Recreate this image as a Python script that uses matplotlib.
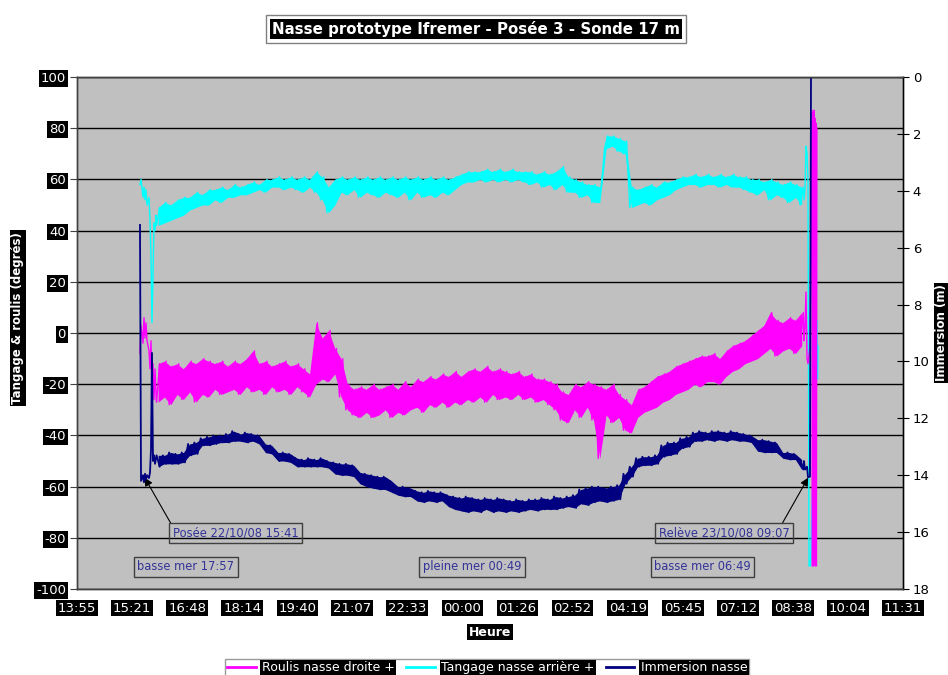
import numpy as np
import matplotlib.pyplot as plt

# Time is in decimal hours from 00:00 on 22/10/08 (values above 24 are on 23/10/08)
x_start = 13.92
x_step = 1.44
x_labels = ["13:55", "15:21", "16:48", "18:14", "19:40", "21:07", "22:33", "00:00",
            "01:26", "02:52", "04:19", "05:45", "07:12", "08:38", "10:04", "11:31"]
deg_ticks = [-100, -80, -60, -40, -20, 0, 20, 40, 60, 80, 100]
depth_ticks = [0, 2, 4, 6, 8, 10, 12, 14, 16, 18]

# deployment: first records, taken every ~1.5 min
head_t = [15.567, 15.594, 15.646, 15.672, 15.698, 15.724, 15.751, 15.803,
          15.829, 15.855, 15.881, 15.907, 15.934, 15.960, 15.986]
roulis_head = [-8, 3, -4, 6, -2, 4, -3, -7, -14, -3, -22, -12, -26, -14, -24]
tangage_head = [58, 60, 53, 57, 52, 56, 50, 53, 44, 30, 4, 22, 43, 40, 46]
immersion_head = [5.2, 14.2, 14.0, 14.25, 13.95, 14.15, 14.0, 14.1,
                  13.9, 13.1, 9.7, 13.5, 13.3, 13.6, 13.4]

# on the bottom: min / max of each 9.9 min block, from 16:00
body_start = 16.0
body_step = 0.165

roulis_lo = [-27, -25, -28, -24, -26, -23, -27, -24, -25, -22,
             -24, -23, -22, -24, -21, -23, -22, -24, -21, -23,
             -22, -24, -21, -23, -25, -20, -18, -19, -16, -25,
             -30, -32, -33, -31, -33, -32, -30, -33, -31, -32,
             -30, -29, -31, -28, -29, -27, -29, -27, -28, -26,
             -27, -25, -27, -24, -26, -25, -26, -24, -26, -25,
             -27, -26, -28, -30, -34, -35, -30, -33, -29, -34,
             -49, -32, -35, -33, -38, -39, -33, -31, -30, -29,
             -27, -26, -24, -23, -22, -20, -21, -19, -19, -20,
             -17, -15, -14, -12, -11, -10, -8, -6, -9, -7,
             -6, -8, -5]
roulis_hi = [-12, -11, -13, -12, -14, -11, -12, -10, -11, -12,
             -11, -13, -11, -12, -10, -7, -12, -11, -13, -12,
             -11, -13, -12, -14, -16, 4, -2, 1, -6, -10,
             -20, -22, -21, -22, -20, -22, -21, -20, -22, -19,
             -21, -18, -19, -17, -18, -16, -17, -15, -17, -15,
             -14, -15, -13, -15, -14, -15, -16, -15, -17, -16,
             -18, -18, -19, -20, -23, -24, -20, -21, -19, -20,
             -21, -22, -20, -24, -26, -28, -22, -21, -19, -17,
             -16, -15, -13, -12, -11, -10, -9, -9, -8, -10,
             -7, -5, -4, -3, -1, 1, 3, 8, 5, 4,
             6, 5, 8]

tangage_lo = [42, 43, 44, 45, 46, 48, 49, 50, 50, 52,
              51, 53, 53, 54, 54, 55, 56, 55, 57, 57,
              56, 57, 56, 55, 57, 55, 52, 47, 50, 55,
              54, 56, 53, 55, 54, 53, 55, 54, 53, 55,
              52, 55, 53, 54, 53, 55, 54, 56, 58, 59,
              59, 60, 59, 60, 59, 60, 59, 60, 59, 58,
              59, 57, 58, 56, 58, 55, 55, 53, 54, 51,
              51, 72, 73, 71, 70, 49, 50, 51, 50, 52,
              53, 54, 56, 57, 58, 58, 57, 58, 58, 57,
              58, 57, 57, 56, 55, 54, 56, 52, 54, 53,
              51, 53, 50]
tangage_hi = [49, 51, 50, 52, 53, 53, 55, 54, 56, 56,
              57, 56, 58, 57, 58, 59, 58, 60, 60, 61,
              60, 61, 60, 61, 60, 63, 61, 57, 60, 61,
              60, 61, 60, 61, 60, 61, 60, 61, 60, 61,
              60, 61, 60, 61, 60, 61, 60, 61, 62, 63,
              63, 63, 64, 63, 64, 63, 64, 63, 63, 63,
              62, 63, 62, 63, 65, 61, 60, 59, 58, 58,
              57, 77, 77, 76, 75, 57, 56, 57, 58, 57,
              59, 59, 60, 61, 61, 62, 61, 62, 61, 62,
              61, 62, 61, 61, 60, 60, 59, 60, 59, 58,
              59, 58, 57]

immersion_lo = [13.3, 13.3, 13.2, 13.25, 13.2, 12.9, 12.85, 12.7, 12.65, 12.6,
                12.6, 12.55, 12.45, 12.55, 12.5, 12.55, 12.6, 12.9, 12.95, 13.2,
                13.2, 13.25, 13.4, 13.45, 13.4, 13.45, 13.4, 13.5, 13.55, 13.6,
                13.6, 13.65, 13.9, 13.95, 14.0, 14.05, 14.05, 14.2, 14.4, 14.4,
                14.45, 14.55, 14.6, 14.55, 14.6, 14.6, 14.7, 14.75, 14.8, 14.75,
                14.8, 14.85, 14.8, 14.85, 14.8, 14.85, 14.9, 14.85, 14.9, 14.85,
                14.85, 14.8, 14.85, 14.75, 14.8, 14.75, 14.7, 14.5, 14.45, 14.4,
                14.4, 14.45, 14.4, 14.35, 13.95, 13.7, 13.4, 13.35, 13.35, 13.3,
                12.95, 12.85, 12.85, 12.7, 12.65, 12.5, 12.45, 12.5, 12.45, 12.45,
                12.5, 12.45, 12.5, 12.55, 12.6, 12.75, 12.75, 12.8, 12.85, 13.2,
                13.2, 13.25, 13.45]
immersion_hi = [13.7, 13.6, 13.6, 13.6, 13.55, 13.3, 13.25, 12.95, 12.95, 12.9,
                12.85, 12.85, 12.8, 12.8, 12.85, 12.8, 12.9, 13.2, 13.25, 13.5,
                13.5, 13.55, 13.7, 13.7, 13.7, 13.7, 13.7, 13.75, 13.95, 14.0,
                14.0, 14.05, 14.3, 14.4, 14.45, 14.5, 14.5, 14.6, 14.7, 14.75,
                14.75, 14.9, 14.95, 14.9, 14.95, 14.9, 15.1, 15.2, 15.25, 15.3,
                15.25, 15.3, 15.2, 15.3, 15.25, 15.3, 15.25, 15.3, 15.25, 15.2,
                15.25, 15.2, 15.2, 15.2, 15.15, 15.1, 15.15, 15.0, 15.05, 14.95,
                14.9, 14.95, 14.9, 14.85, 14.3, 14.05, 13.7, 13.65, 13.65, 13.6,
                13.35, 13.3, 13.25, 13.05, 13.0, 12.8, 12.8, 12.75, 12.8, 12.75,
                12.8, 12.75, 12.8, 12.8, 12.85, 13.15, 13.2, 13.2, 13.2, 13.4,
                13.45, 13.45, 13.8]

# recovery: last records
roulis_tail_t = [32.93, 32.957, 32.983, 33.010, 33.036, 33.088, 33.14, 33.152, 33.165,
                 33.178, 33.19, 33.203, 33.216, 33.229, 33.242, 33.255, 33.268]
roulis_tail = [-3, 2, 16, -10, -12, -5, 87, -91, 86, -91, 87, -90, 84, -91, 82, -91, 80]
tangage_tail_t = [32.93, 32.957, 32.983, 33.010, 33.036, 33.062, 33.100, 33.271, 33.284, 33.297]
tangage_tail = [52, 56, 73, 70, 60, -91, -91, 5, -18, -5]
immersion_tail_t = [32.93, 32.957, 33.010, 33.036, 33.088, 33.114]
immersion_tail = [13.5, 13.8, 13.7, 14.07, 14.05, 0.0]


def draw(a, h_t, h_v, lo, hi, t_t, t_v, color, lw):
    # min/max band of each block, then the record as a line through both
    t = body_start + body_step * np.arange(len(lo))
    a.fill_between(t + body_step / 4, lo, hi, color=color, linewidth=0)
    bt = np.column_stack([t, t + body_step / 2]).ravel()
    bv = np.column_stack([lo, hi]).ravel()
    line, = a.plot(np.concatenate([h_t, bt, t_t]), np.concatenate([h_v, bv, t_v]),
                   color=color, lw=lw)
    return line


fig = plt.figure(figsize=(9.48, 6.75), dpi=100)
ax = fig.add_axes([77 / 948, 86 / 675, 826 / 948, 512 / 675])
ax2 = ax.twinx()

ax.set_facecolor("#c0c0c0")
ax.set_axisbelow(True)
ax.grid(axis="y", color="black", linewidth=1)

l_tan = draw(ax, head_t, tangage_head, tangage_lo, tangage_hi,
             tangage_tail_t, tangage_tail, "#00ffff", 1.0)
l_rou = draw(ax, head_t, roulis_head, roulis_lo, roulis_hi,
             roulis_tail_t, roulis_tail, "#ff00ff", 1.0)
l_imm = draw(ax2, head_t, immersion_head, immersion_lo, immersion_hi,
             immersion_tail_t, immersion_tail, "#000080", 1.3)

x_ticks = [x_start + x_step * k for k in range(len(x_labels))]
ax.set_xlim(x_ticks[0], x_ticks[-1])
ax.set_ylim(-100, 100)
ax2.set_ylim(18, 0)

ax.set_xticks(x_ticks)
ax.set_xticklabels(x_labels)
ax.set_yticks(deg_ticks)
ax.set_yticklabels([str(v) for v in deg_ticks])
ax2.set_yticks(depth_ticks)
ax2.set_yticklabels([str(v) for v in depth_ticks])

ax.tick_params(axis="x", length=0, pad=9, labelsize=9.5)
ax.tick_params(axis="y", direction="out", length=5, pad=3, labelsize=9.5, color="#404040")
ax2.tick_params(axis="y", direction="inout", length=8, pad=3, labelsize=9.5)
for lab in ax.get_xticklabels() + ax.get_yticklabels():
    lab.set_color("white")
    lab.set_bbox(dict(facecolor="black", edgecolor="none", pad=1.2))

for a in (ax, ax2):
    for s in a.spines.values():
        s.set_color("#404040")
        s.set_linewidth(1)
ax2.spines["right"].set_color("black")

box_kw = dict(boxstyle="square,pad=0.3", facecolor="none", edgecolor="#404040", linewidth=1)
note_kw = dict(fontsize=8.3, color="#333399", ha="center", va="center", bbox=box_kw)
arrow_kw = dict(arrowstyle="-|>", color="black", lw=0.8, shrinkA=0, shrinkB=0, mutation_scale=12)

ax.annotate("Posée 22/10/08 15:41", xy=(15.69, -56.5), xytext=(18.07, -78.3),
            arrowprops=dict(relpos=(0, 1), **arrow_kw), **note_kw)
ax.annotate("Relève 23/10/08 09:07", xy=(33.04, -56.5), xytext=(30.84, -78.3),
            arrowprops=dict(relpos=(0.93, 1), **arrow_kw), **note_kw)
ax.text(16.77, -91.4, "basse mer 17:57", **note_kw)
ax.text(24.25, -91.4, "pleine mer 00:49", **note_kw)
ax.text(30.28, -91.4, "basse mer 06:49", **note_kw)

title = "Nasse prototype Ifremer - Posée 3 - Sonde 17 m"
fig.text(476 / 948, 1 - 29 / 675, title, fontsize=10.8, fontweight="bold", color="none",
         ha="center", va="center",
         bbox=dict(boxstyle="square,pad=0.4", facecolor="white", edgecolor="#808080", linewidth=1))
fig.text(476 / 948, 1 - 29 / 675, title, fontsize=10.8, fontweight="bold", color="white",
         ha="center", va="center",
         bbox=dict(boxstyle="square,pad=0.12", facecolor="black", edgecolor="none"))

lab_kw = dict(fontsize=8.5, fontweight="bold", color="white", ha="center", va="center",
              rotation=90, bbox=dict(facecolor="black", edgecolor="none", pad=1.2))
fig.text(18 / 948, 1 - 318 / 675, "Tangage & roulis (degrés)", **lab_kw)
fig.text(942 / 948, 1 - 333 / 675, "Immersion (m)", **lab_kw)
fig.text(490 / 948, 1 - 632 / 675, "Heure", fontsize=9, fontweight="bold", color="white",
         ha="center", va="center", bbox=dict(facecolor="black", edgecolor="none", pad=1.2))

leg = fig.legend([l_rou, l_tan, l_imm],
                 ["Roulis nasse droite +", "Tangage nasse arrière +", "Immersion nasse"],
                 loc="upper center", bbox_to_anchor=(487 / 948, 1 - 653 / 675), ncol=3,
                 fancybox=False, edgecolor="#808080", fontsize=9, handlelength=2.3,
                 handletextpad=0.5, columnspacing=0.9, borderpad=0.15)
leg.get_frame().set_linewidth(1)
for h in leg.legend_handles:
    h.set_linewidth(2)
for t in leg.get_texts():
    t.set_color("white")
    t.set_bbox(dict(facecolor="black", edgecolor="none", pad=1))

fig.savefig("out.png", dpi=100)
